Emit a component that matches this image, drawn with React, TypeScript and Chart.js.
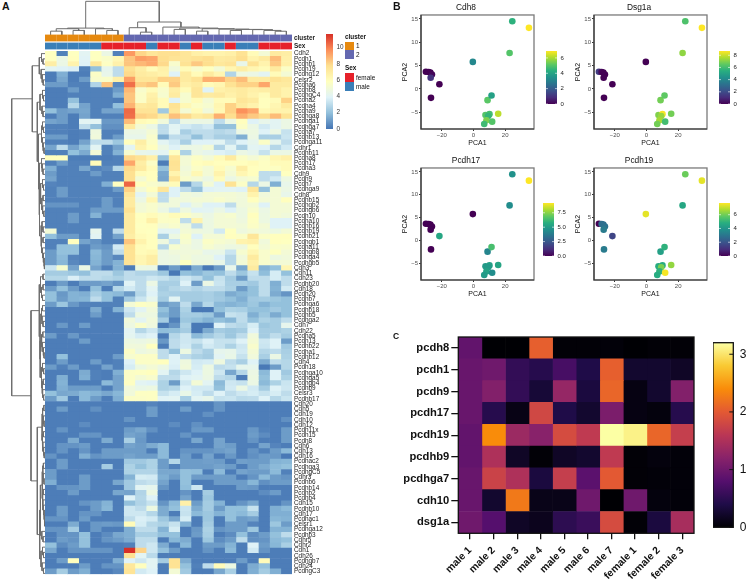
import React, { useEffect, useRef } from "react";
import { Chart, registerables } from "chart.js";

Chart.register(...registerables);

const FONT = '"Liberation Sans", Arial, sans-serif';

// ---------- Panel A data ----------
const geneLabels = ["Cdh2","Pcdh1","Pcdhb1","Pcdh19","Pcdhg12","Celsr2","Pcdha6","Pcdhb8","PcdhgC4","Pcdha2","Pcdha4","Pcdha9","Pcdhga8","Pcdhga1","Pcdhga7","Pcdha7","Pcdhb13","Pcdhga11","Cdhr1","Pcdhb11","Pcdha8","Pcdh17","Pcdha3","Cdh9","Pcdh9","Pcdh7","Pcdhga9","Cdh8","Pcdhb15","Pcdhgb2","Pcdhgb6","Pcdh10","Pcdha10","Pcdhb16","Pcdhb19","Pcdhb21","Pcdhgb1","Pcdha11","Pcdhgb8","Pcdhga4","Pcdhgb5","Cdh3","Cdh11","Cdh23","Pcdhb20","Cdh18","Pcdh20","Pcdhb7","Pcdhga6","Pcdhb18","Pcdhb5","Pcdhga2","Cdh7","Cdh22","Pcdha5","Pcdh13","Pcdhb22","Pcdha1","Pcdhb12","Cdh4","Pcdh18","Pcdhga10","Pcdhga5","Pcdhgb4","Pcdhb9","Celsr3","Pcdhb17","Cdh20","Cdh5","Cdh19","Cdh10","Cdh12","Pcdh11x","Pcdh15","Pcdh8","Cdh6","Cdh13","Cdh16","Pcdhac2","Pcdhga3","PcdhgC5","Cdhr3","Pcdhb6","Pcdhb14","Pcdhb2","Pcdhb4","Cdh15","Pcdhb10","Cdh17","Pcdhac1","Celsr1","Pcdhga12","Pcdhb3","Cdhr5","Cdhr2","Cdh1","Cdh26","Pcdhgb7","Cdh24","PcdhgC3"];

const expression: number[][] = [
[5.7,.3,5.7,4,5.7,4.5,.3,9.3,7.9,7.3,7.6,7.6,7.3,6.7,6.5,6.5,6.7,7.5,6,5,7,6.8],
[5.7,4.5,5.8,3.9,5.7,5.4,6.2,8.3,9.2,9,7.7,7.4,7.3,7.5,7.7,7,7.1,7.7,6.5,7,8.5,6.7],
[6.8,4.5,6.5,3.8,7.2,5.6,6.6,8.3,8.6,8.9,7.8,5.3,7.5,8.2,7.7,7.2,7.4,4.3,7.5,6.5,8.2,6.7],
[4,3.8,3.7,.3,2,4.2,3,7.6,6.8,6,6.6,4.8,6,5.3,5.7,5,6.3,6.8,6.3,6,7,5.5],
[.2,1.5,.2,.2,5.5,4.3,3,7.8,7,6.8,6.5,3.8,7,6,7,6.3,2.7,4.7,4.5,4,6,5],
[.2,1.3,.2,1,5.3,5.4,6.7,9.2,7.3,7.3,8,8,7,7.5,8.8,8.8,8,8.5,7,7,7.5,7.2],
[1,1,.3,.3,2.7,8.3,.5,10.2,8,8.3,6,8.2,6.7,7,6,6.3,7.5,8,8,9,7,7],
[.2,.2,1,.3,.3,.3,1,8.6,5.3,6,5.3,6.8,6,7.3,3.8,6.6,6.8,7,6.7,6.8,7,6.5],
[.2,.2,.3,.3,.3,.3,1.5,8.3,5.5,6.6,5.2,7,5.2,7.3,7,7.1,6.6,7,6.5,6,7,6.5],
[.2,.2,2,.3,.3,.3,.2,8.3,5.5,6.8,6,3.8,5.2,6,5,6,6,7.3,7,5.8,6,8],
[.2,.2,2.8,1.2,.3,.3,2,8.7,7,7.2,6,7.5,6.2,5.5,5.2,6.3,8,7,6.5,5.8,6.3,7],
[2,1,1.2,1.3,.3,1.2,1.2,10.3,7.4,7.4,2.3,7.3,5,6,4.8,6.2,8,9.5,9,6.2,6.5,6.5],
[.2,1,.2,1.2,.3,.3,.3,10.2,8,7.8,7,8.4,7.8,7,7.3,8.8,7.7,8.8,8.2,7.8,8.5,7.5],
[1.2,1,.2,4,4,.9,.9,8.5,6,5.8,4.8,3,4.5,4.5,4.5,3,4.5,5.8,3.8,4.3,4,4.5],
[.3,.3,.2,3,2,.7,.7,7,5,4.5,3,4,3.5,3.2,3.5,2,2,5.5,4.5,3.5,4,4.5],
[.3,.3,.2,.3,4.7,.3,.3,4.5,4.5,5,3,4,2.5,3,3,2.8,3,4.5,4.6,3.8,4.5,3.2],
[1,1,.2,.3,4.8,.3,1,4.3,4.3,5.3,1.5,3,3,2,3,2.5,2.5,1.5,4.5,2.5,2.5,3.3],
[.3,.3,.2,1.2,3,3,2.2,5.8,6.8,5.5,4,3.5,2.5,3.8,3.8,4,3,3.8,4.2,5.5,4.2,3],
[1.2,3,1.2,2,4,.3,1.2,4,6.5,5.8,4.5,3.8,4.5,4.5,5,2.7,4,2.5,4,3.8,2.8,3.5],
[.3,.3,2,1.4,5,.3,1.6,5.2,4.3,4.2,4,5.6,2.6,4.5,4.2,3.8,3.6,4.5,4.2,3.2,4.5,4.5],
[5.8,5.8,.2,.2,.2,.2,.3,7.8,7.5,6.7,2,7.3,5,5.5,5,6,7,5.5,5,5.5,6.3,6.6],
[.3,1,.3,.3,6,.3,.3,9,6.8,5.5,.2,7.5,5,5.8,6,5.8,5.8,5.8,6,5.6,6,6],
[1.5,.3,.3,1.3,.4,.6,2.8,7.8,7,6,2,7.4,4.8,5.5,5,6,5.2,6.8,5.8,5.6,5.6,6],
[1,.3,.3,.3,1,.3,.3,7.6,6,5.8,1.3,6.4,5,6.2,5,6.5,5,6.3,5.8,3,3,5.7],
[1.2,.3,.3,.3,.3,.3,.3,7.6,5,5.8,1.2,7.3,5.3,5,4.5,6,4.5,5,5.2,3,3.5,4.6],
[.4,.3,.3,.3,.3,1.5,5.7,10.4,5.8,5.3,5,6,1,2.8,5,3.8,7.5,5.5,2.8,4.5,1.5,4.3],
[.3,1,.3,.3,.3,.3,1,8,5,5.8,7.3,3.8,3,2,3.8,4,4,3.8,7.3,2,5,4.5],
[.3,1,.3,.3,.3,.3,.3,7.3,4,5,3,3.8,4.8,4.6,5,5,5,4.8,6.5,4.8,5,4.3],
[.3,.3,.3,.3,.3,1,.3,7,4.5,6.3,3,4.8,4.8,5,5,5.3,5,4.8,5.8,5,5,5.8],
[.8,.8,.8,.3,.3,1,.3,7,5,5.3,4.8,4.8,3.8,4.6,3.8,3.8,3,4.8,5,3.8,5,5],
[.3,.3,.3,.3,1,1,1,7.5,5,5.3,4.5,3.5,4.7,3.9,4,4.5,3.8,4.6,5.3,4.5,5,5],
[.3,.3,1,.3,1.6,.3,.3,7,5.7,6,5.5,6,5.5,5,4.5,5,5.2,4.6,5.8,4.6,5,4.8],
[.3,.3,1,.3,.3,.3,.3,7,5.8,6.7,5.5,5.5,3,6.5,4.6,5,5,4.7,5.6,4.6,3.8,3.8],
[.3,.3,.3,.3,.3,.3,.3,7,5.7,5.8,5,5.3,4.8,3,4.6,5,5,4.9,5.5,5,3.8,3.8],
[5,.3,.3,.3,4.2,.3,3,7,5.8,5.7,4,4,5,4.7,4.6,3.5,5.7,4.7,5,4.8,4.6,5],
[2,1,1,.3,4,.3,1.2,6.8,6,5.8,2.5,4.6,5.4,3.8,5,5,5.8,5.5,7.3,5.5,5.8,5.8],
[.3,.3,5.8,1.2,.8,.3,.3,8.3,6.5,5.8,4.7,3.3,5.2,4.5,5.5,5.2,5,6.5,6.7,4.8,5.8,5.7],
[.3,2,2,.3,1,.8,3.5,7.6,6,5.8,2.8,5.2,4.8,4.5,5.2,4.8,4.6,4.7,5.8,5,5.4,5.3],
[1,2,2,.3,1.8,1,3,7.5,6,6.2,4.5,4.8,4.8,4.8,4.3,4.4,3.3,5.2,6.3,5.3,5.7,5],
[1,1.8,.4,.3,1.7,1,.5,7.5,6.3,6.8,4.5,4.6,4.9,4.6,4.6,3.8,2.8,4.8,7,5.3,4.6,4.8],
[1,1.7,.5,.3,1.6,1,1.6,7.4,6.3,6.8,4.5,4.6,5.7,4.7,4.7,4.4,2.8,5,6.7,5.3,5,5],
[3.3,5.2,1.2,4.5,1.2,.3,1.6,.2,4.6,4.5,.1,1,.1,1.4,.1,1,4.3,1.3,7,1.6,2,6.3],
[2.4,2.4,2.2,2,3,3,2.2,3,2.7,2.7,2.2,.1,2,1.7,2.2,2,3,2.2,3.2,1.9,3.6,2],
[2.8,2.8,3.7,3,3,2.8,2.6,3,3,3.4,3.2,2.8,3.4,3,2,3.2,2.4,1,3,3,3.6,3],
[.2,1,.2,1,1,1.2,.8,3.9,3,4.5,2.5,2.5,3.8,1,4.5,3.3,2.5,2.5,2.3,3,1.5,3],
[1,2,1,.2,2,.2,2.8,3.5,3,4,2.4,2.8,3,2.7,3,3,2.6,1,2,3,1.6,3.5],
[2,.9,1.6,1.5,2.5,2,1.8,1,2.8,3.8,2.6,2.5,2.4,2.4,2.5,2.2,1.4,1.7,2,3,1.4,.8],
[2,1,1.6,1.7,3,2,.3,2.3,3.3,4.2,2.4,4,2.4,2.4,2.5,2.3,2,1.5,2.3,2.4,2.2,2],
[1,2.2,.9,.4,.3,.3,.3,5,5.6,5.3,1,1.3,3,1.3,2.8,1.8,1.6,1.8,2.2,1.6,2,2],
[.2,.2,.2,.2,1.4,.2,1.6,3.4,4,4.8,2,1,2.6,.1,.1,2,2.6,2.5,2,2,2.3,2],
[.2,.2,.2,.2,1,.2,.2,3,4.6,4.6,1.6,1,2.4,2.4,2.2,1,3.2,3,1.5,2.2,1.4,2],
[.2,.2,.2,.2,.2,.2,.2,4.8,4,4.8,2.4,.3,2.2,2,1.6,2,1.7,3,2,2.6,2.4,3],
[.2,.9,.2,1,.2,.2,.2,4.6,5.4,4.7,.1,.8,2.6,.1,.1,3.8,3,2.8,3.6,2.2,2.4,4.2],
[.2,.2,.2,.2,.2,.2,.2,4,2.8,3.4,1.9,2,2.4,.1,1.4,2.4,2.2,2.4,3.8,2.4,2.4,2.6],
[1,.2,.9,.2,.2,.2,.2,4.1,3.6,3.8,.1,2.8,3.4,1.8,2.3,2.8,2.2,3,4.8,2.4,3,2.4],
[.2,.2,.2,1,.2,.2,.2,4.6,4.5,4.7,.9,3,3.4,3.2,3.7,3.2,3.2,3.8,5,3.4,3.8,1],
[.2,.2,.2,.2,.2,.2,.2,4.8,4.8,5.7,.2,3,3.5,2.6,3.5,3.2,2.6,3.4,5.3,3.3,3.8,2.3],
[.2,.2,.2,.2,.2,.2,.2,5.5,4.6,4.8,3,2,4.6,3,2.5,4.2,4.3,3.5,5,2.8,3,2.5],
[.2,2,.2,.2,.2,.2,1,5.2,5.5,5.5,3,3.8,3,2.6,2.4,4,4.4,3.2,4.8,2.5,4.5,2.6],
[.2,1,.2,.2,1,.2,.3,3.8,5.5,5.5,5.8,3.8,4.7,3.5,3.6,4.7,3,2.5,3.8,1.4,3,2.8],
[1,.3,1,.2,.2,1.2,.3,3.6,4.6,5,4.5,3.7,4.8,3.6,4.6,3,3.2,4.2,4.2,.1,1,2.8],
[.2,.2,.2,1.4,.3,.2,1.5,5.5,5.6,5.8,4,2.8,3.4,3.8,4.6,3.4,1.3,2.8,4.5,1.8,3.8,2.3],
[.2,1.5,.2,1.5,.3,.2,1.2,5.5,5,5.3,3,3,3.8,4,4.5,3,2.8,.2,4.6,2,3.8,2.6],
[.2,1.6,.2,.2,.2,1.8,1.2,5.6,4,3.8,2.6,1,3.4,5,4,1.8,3.4,3.2,4.5,1.8,2.6,3.3],
[.2,1.5,1,1,1,.2,1.2,4.8,4.4,4.6,2.6,2.8,3.8,3.5,3.5,2,3.5,4.5,3.5,2.4,3.8,3.4],
[2,1.3,1.4,1.8,1.6,1.3,1.7,4.8,5.6,5.6,3.2,3.6,4.4,3.6,3,3.8,3,3.4,3.6,3.2,3.6,3],
[1,2.3,.2,1.8,1,.2,1.5,5.5,5.5,5.6,3.9,4,2.5,4,4.3,3.2,3.3,2.9,3,3.8,2.8,3.3],
[.2,.2,.2,.2,.2,.2,.2,.2,.2,.4,.2,.2,.2,.2,.2,.8,.2,.2,.2,.2,.2,.2],
[.2,1,.2,.2,.7,.2,.2,.2,.2,1,.2,.2,1,.2,.2,.8,.2,.2,.2,.2,.2,.2],
[.2,.2,.2,.2,.2,.2,.2,.2,.2,1,.2,.2,.2,.2,.7,.2,.2,.2,.2,.2,.2,.2],
[.2,.2,.2,.2,.2,.2,.2,.8,.2,.2,.2,.2,.2,.2,.2,.2,.2,.2,.2,.2,.2,.7],
[.2,.2,.2,.6,.2,.2,.2,.2,.2,.2,.2,.6,.2,.7,.2,.2,.2,.2,.2,.2,.2,.2],
[.2,.8,.2,.2,.2,.2,.2,1,1.3,.7,.2,.2,.2,.9,.9,.2,.2,.2,.9,.3,.2,1],
[.2,.2,.2,.8,.8,.2,.2,1.2,1,.2,.2,.2,.8,.2,.2,.2,.2,.2,1,.6,.2,1],
[.2,.2,1.4,.2,.2,1.4,.2,2.5,.9,.2,.2,.2,.2,1.3,.2,1.2,.2,.2,.8,.2,.2,1],
[.2,.8,.8,1,.2,.2,.2,1.2,1,1.4,1.8,.2,.2,.2,.2,1.2,1,.2,.2,1.2,.4,.2],
[.2,.8,.2,.8,.2,1,1,1,1,.2,1.8,.2,.8,.8,.8,1,1.2,.2,.8,.3,1,1.8],
[.8,.2,.2,1.5,.8,1,1,1.2,1,1,1.8,.2,1,.2,1.2,.2,.9,.2,.7,1,.9,.1],
[.2,1,.2,.2,.2,.2,.2,2.3,2.3,2.6,1,2.8,1,1,1.1,1,.2,1.1,1,1,1.6,1.7],
[.2,1,.2,.2,.2,2.4,.2,2.6,2,2.6,1,.3,1,1,1,1.2,1,.2,1,1.4,1.8,2],
[1,.2,.2,.2,.2,.2,.2,2.6,2.7,2.7,1.3,1.3,2,1.9,.2,1.8,.2,1.2,1,1,1.8,.3],
[1,.2,.2,1,.2,.2,.2,1.6,3.6,3.5,1.5,1,2,1,1,1,1,.2,.8,1.8,1,.8],
[1.5,.2,.2,1,.2,.2,1.3,2.3,3,3.2,1.2,.2,2,.2,.2,1,1,1,1.7,.7,1,1],
[.2,.8,.8,1,.2,.2,.2,2.3,4,4.2,.8,.2,1.9,3.4,.2,.2,.2,1,.9,.2,.2,.2],
[.2,.2,1,.2,.2,.2,1.3,1.2,2.7,4.5,.2,.2,.8,.2,2.4,.2,.2,.2,.2,.6,1,.2],
[.2,.2,.2,.2,.2,.2,.2,3.8,2.8,3.8,.2,.2,1.2,.2,2.2,.2,.2,.2,.2,.2,.2,.2],
[.2,.2,.2,.8,1,1.6,.2,2,2.7,3.2,.8,1.8,6.7,1,2.4,1.6,.2,.8,1.3,.2,.2,.8],
[.2,1,.2,.2,1,1.7,.2,3.4,3,4.6,1.4,2,3.3,1.4,2.4,1,2,2,3.2,.2,1.5,1.8],
[.2,1,.2,.8,.8,.2,.2,3.4,3.4,2.8,1.4,.2,3.2,1.8,2.2,1.6,2,1.8,2.4,.2,1.5,1.5],
[.8,.8,.2,1,.2,.2,.2,3,3.7,3.5,2.2,1.3,3.6,.2,2.2,.2,2,1,1.2,.2,1.7,1.6],
[.2,.2,1.4,.2,.9,1,.9,6,3.6,2.8,2.6,3.2,1.6,.2,2.4,.2,1,1,.4,.2,2.2,1],
[.8,.8,2.4,.2,.9,.2,.2,1.5,3,3,1.6,3.6,.2,.9,2.6,.8,1,1,2.2,.2,1.6,1.6],
[.2,.8,.8,2,.2,.6,1.3,1.5,2.5,2.5,2,2,.2,1,2.5,.2,.6,2,.6,1,2,3],
[.2,1,.8,2,.2,.8,1,1.4,3,3,.2,1.7,1.4,.2,2.2,.6,1,3,.7,.8,1.8,2],
[2,.6,1,2,.2,.2,.2,.3,3,3.4,1.4,.2,1.7,.2,1,1,1.6,.2,3.8,1,1.7,2.5],
[1.3,.2,.8,.8,.8,.8,.2,11.5,8,3.4,2,1,.2,.2,.8,.2,1.8,.2,3.5,.8,.2,.2],
[.2,.2,.2,.2,.2,.2,.2,7.6,4,2.9,.2,.2,.2,.2,.2,.2,.2,.2,.2,.2,.2,.2],
[.2,1,5.8,.2,.2,.2,1.5,3.8,3.4,4,2.4,7.5,1.4,.2,.2,.2,.2,1,.2,6,.2,.2],
[.2,.2,.2,1,.2,.8,.8,7.2,5.8,4,.2,7.5,2,.3,3,6,4.6,.2,1.4,2,.2,.2],
[1,2.4,1,1.5,.2,.2,.5,7.4,3.5,3.8,.2,5,2.3,.2,.2,1.3,2.5,.2,1.5,2.4,1.5,.2],
];

const clusterTrack = [1,1,1,1,1,1,1,2,2,2,2,2,2,2,2,2,2,2,2,2,2,2];
const sexTrack = ["m","m","m","m","m","f","f","f","f","m","f","f","m","f","m","m","f","m","m","f","f","f"];

// dendrogram merges: [height, childA, childB]; a number is a leaf index
type Tree = number | [number, Tree, Tree];
const colTree: Tree = [33.2,
  [6.8,[6.2,[3.8,0,1],[4.5,2,3]],[6.2,4,[4.5,5,6]]],
  [12.8,[7.2,7,[2.8,8,9]],[7.8,10,[6.8,[5.5,11,12],[6.2,[3.8,13,14],[5.8,15,[5.5,[4.5,16,17],[5.3,18,[4.5,19,[3.7,20,21]]]]]]]]]];
const rowTree: Tree = [33.3,
  [12.7,
    [5.7,[3.5,0,[2,1,2]],[3.8,3,[2.8,4,[1.8,5,6]]]],
    [7.7,
      [5,[2.5,7,[1.5,8,9]],[3,10,[2,11,12]]],
      [6.5,
        [3.5,[2.5,13,[1.5,14,15]],[2.5,16,[1.8,17,[1,18,19]]]],
        [5.8,[3.5,20,[2.8,21,[2,22,23]]],
          [5.5,[4.4,[2.5,24,[1.5,25,26]],[3.2,[2,27,28],[2.4,29,[1.2,30,31]]]],
            [4,[3,32,[2,33,34]],[3.5,[2,35,36],[2.5,37,[1.6,38,[1,39,[.6,40,41]]]]]]]]]]],
  [14,
    [5.7,[4.5,[2,42,43],[3.5,[2,44,45],[2.5,46,47]]],
      [5,[3.5,[2.5,48,49],[3,50,[2,51,52]]],
        [4.8,[3.4,[2.2,53,54],[2.8,55,[1.6,56,[1,57,58]]]],
          [3.5,[2.5,59,[1.4,60,61]],[3,[1.8,62,63],[2.4,64,[1.4,65,66]]]]]]],
    [7.7,
      [3,[2.4,[1.2,67,68],[1.8,69,[1,70,71]]],[2.8,[1.5,72,73],[2.2,74,[1.4,75,[.8,76,77]]]]],
      [5.3,
        [4.6,[2.9,[2.2,[1.6,78,79],[1.8,80,[1,81,82]]],[2.5,[1.8,83,84],[2.2,85,[1.5,86,[1,87,[.6,88,[.4,89,90]]]]]]],[3.2,91,[2,92,93]]],
        [4,[2.5,94,[1.5,95,96]],[3,97,[1.5,98,99]]]]]]];

// ---------- Panel B data ----------
const pca1 = [24.5,35,22.8,-.4,-30,-28.3,-27.2,-26.2,-27,-21.5,-26.8,8.9,11.4,15.6,7.6,10.1,9.3,8.2,11.8,6.8];
const pca2 = [14.5,13.1,7.7,5.8,3.7,3.65,3.5,3.1,2.4,1,-1.9,-2.4,-1.4,-5.3,-5.6,-5.4,-5.8,-6.7,-7,-7.5];
const cdh8Pca = [4.4,6.9,5,3.2,0,0,0,.1,1,0,0,5.1,3.9,6.2,5,4.8,4.5,5.5,5,4.7];
const dsg1aPca = [6.2,8.7,7.2,0,1.5,.2,0,0,0,0,0,6.8,6.5,6.8,7,8.6,7.3,7.5,6,6.8];
const pcdh17Pca = [4.7,9.3,4.5,0,0,0,0,0,0,5.5,0,4.2,6.5,5.4,5,5.2,5,5.3,4.5,5];
const pcdh19Pca = [6,7.5,4.6,7.5,0,2.8,2.8,2.9,3.2,1.6,3.2,4.4,5,6.5,4.8,4.8,6.2,5,7.7,4.8];

// ---------- Panel C data ----------
const samples = ["male 1","male 2","male 3","male 4","male 5","male 6","male 7","female 1","female 2","female 3"];
const cGenes = ["pcdh8","pcdh1","pcdh9","pcdh17","pcdh19","pcdhb9","pcdhga7","cdh10","dsg1a"];
const cValues = [
  [.9,0,0,2.05,.02,.02,.03,0,.02,.02],
  [.95,1,.55,.45,.7,.4,2.05,.25,.25,.2],
  [.95,1.15,.55,.3,1.3,.35,2.1,.08,.25,1.15],
  [.95,.45,.1,1.8,.4,.25,1.1,.08,.05,.45],
  [.9,2.4,1.35,1.2,1.85,1.65,3.2,3.1,2.1,1.7],
  [.9,1.5,.2,.02,.2,.25,1.65,.02,.05,.03],
  [.95,1.75,1.5,.35,1.7,.85,2,.02,.03,.03],
  [.95,.25,2.25,.12,.12,1,0,1,.05,.03],
  [1,.8,.2,.15,.5,.6,1.85,.02,.35,1.45],
];

// ---------- colours ----------
const rdylbu = ["#4575B4","#91BFDB","#E0F3F8","#FFFFBF","#FEE090","#FC8D59","#D73027"];
const viridis = ["#440154","#472d7b","#3b528b","#2c728e","#21918c","#28ae80","#5ec962","#addc30","#fde725"];
const inferno = ["#000004","#1f0c48","#550f6d","#88226a","#ba3655","#e35933","#f98c0a","#f9c932","#fcffa4"];
const ORANGE = "#E6890F", PURPLE = "#6468B0", RED = "#E6212A", BLUE = "#3A7FB8";

function hexRgb(h: string) { return [1, 3, 5].map((i) => parseInt(h.slice(i, i + 2), 16)); }
function ramp(stops: string[], t: number) {
  const p = Math.min(Math.max(t, 0), 1) * (stops.length - 1);
  const i = Math.min(Math.floor(p), stops.length - 2);
  const a = hexRgb(stops[i]), b = hexRgb(stops[i + 1]), f = p - i;
  return `rgb(${a.map((v, k) => Math.round(v + (b[k] - v) * f)).join(",")})`;
}

// ---------- layout helper: a plot rectangle plus margins around it ----------
type Rect = { l: number; t: number; r: number; b: number };
type Margin = { left: number; top: number; right: number; bottom: number };
type Spec = { plot: Rect; m: Margin; config: any };

function Plot({ plot, m, config }: Spec) {
  const ref = useRef<HTMLCanvasElement>(null);
  const w = Math.ceil(plot.r - plot.l + m.left + m.right);
  const h = Math.ceil(plot.b - plot.t + m.top + m.bottom);
  useEffect(() => {
    const c = new Chart(ref.current as HTMLCanvasElement, config);
    return () => c.destroy();
  }, []);
  return <canvas ref={ref} width={w} height={h}
    style={{ position: "absolute", left: plot.l - m.left, top: plot.t - m.top, width: w, height: h }} />;
}

const fixedWidth = (w: number) => (s: any) => { s.width = w; };
const fixedHeight = (h: number) => (s: any) => { s.height = h; };
const tickList = (vals: number[]) => (s: any) => { s.ticks = vals.map((value) => ({ value })); };
const base = { responsive: false, animation: false as const, maintainAspectRatio: false };
const noPlugins = { legend: { display: false }, tooltip: { enabled: false }, title: { display: false } };

const boxPlugin = (color: string, width: number, dark?: string) => ({
  id: "box",
  afterDatasetsDraw(chart: any) {
    const { ctx, chartArea: a } = chart;
    ctx.save();
    ctx.strokeStyle = color; ctx.lineWidth = width;
    ctx.strokeRect(a.left, a.top, a.right - a.left, a.bottom - a.top);
    if (dark) {
      ctx.strokeStyle = dark; ctx.lineWidth = 1.2;
      ctx.beginPath(); ctx.moveTo(a.left, a.top); ctx.lineTo(a.left, a.bottom); ctx.lineTo(a.right, a.bottom); ctx.stroke();
    }
    ctx.restore();
  },
});
const innerTicks = (color: string, len: number, both: boolean, lw: number) => ({
  id: "innerTicks",
  afterDatasetsDraw(chart: any) {
    const { ctx, chartArea: a, scales } = chart;
    ctx.save(); ctx.strokeStyle = color; ctx.lineWidth = lw;
    scales.y.ticks.forEach((t: any) => {
      const y = scales.y.getPixelForValue(t.value);
      ctx.beginPath(); ctx.moveTo(a.right - len, y); ctx.lineTo(a.right, y);
      if (both) { ctx.moveTo(a.left, y); ctx.lineTo(a.left + len, y); }
      ctx.stroke();
    });
    ctx.restore();
  },
});

// ---------- matrix of cells as stacked horizontal bars ----------
function cellDatasets(rows: any[][], colorOf: (v: any) => string, bar = 1) {
  return rows[0].map((_, j) => ({
    data: rows.map(() => 1),
    backgroundColor: rows.map((r) => colorOf(r[j])),
    borderWidth: 0, barPercentage: bar, categoryPercentage: 1, stack: "s",
  }));
}

// ---------- dendrogram as line segments ----------
function dendroSets(tree: Tree, horizontalLeaves: boolean) {
  const sets: any[] = [];
  const walk = (t: Tree): [number, number] => {
    if (typeof t === "number") return [t + 0.5, 0];
    const [h, a, b] = t;
    const [pa, ha] = walk(a), [pb, hb] = walk(b);
    const pts = [[pa, ha], [pa, h], [pb, h], [pb, hb]];
    sets.push({
      type: "scatter", showLine: true, pointRadius: 0, borderColor: "#6e6e6e", borderWidth: 1, clip: false,
      data: pts.map(([p, v]) => (horizontalLeaves ? { x: p, y: v } : { x: v, y: p })),
    });
    return [(pa + pb) / 2, h];
  };
  walk(tree);
  return sets;
}

// ---------- panel specs ----------
const heatA: Spec = {
  plot: { l: 45, t: 50.5, r: 291.5, b: 575 },
  m: { left: 0, top: 10, right: 50, bottom: 4 },
  config: {
    type: "bar",
    data: { labels: geneLabels, datasets: cellDatasets(expression, (v) => ramp(rdylbu, (v ?? 0) / 11.5)) },
    options: {
      ...base, indexAxis: "y", plugins: noPlugins,
      layout: { padding: { left: 0, top: 10, right: 0, bottom: 4 } },
      scales: {
        x: { display: false, stacked: true, min: 0, max: 22 },
        y: {
          position: "right", stacked: true, afterFit: fixedWidth(50), grid: { display: false, drawTicks: false }, border: { display: false },
          ticks: { autoSkip: false, font: { family: FONT, size: 6.4 }, color: "#222", padding: 2 },
        },
      },
    },
  },
};

const trackA: Spec = {
  plot: { l: 45, t: 34.3, r: 291.5, b: 50 },
  m: { left: 0, top: 8, right: 50, bottom: 6 },
  config: {
    type: "bar",
    data: {
      labels: ["cluster", "Sex"],
      datasets: cellDatasets([clusterTrack, sexTrack], (v) =>
        v === 1 ? ORANGE : v === 2 ? PURPLE : v === "f" ? RED : BLUE, 0.85),
    },
    options: {
      ...base, indexAxis: "y", plugins: noPlugins,
      layout: { padding: { left: 0, top: 8, right: 0, bottom: 6 } },
      scales: {
        x: { display: false, stacked: true, min: 0, max: 22 },
        y: {
          position: "right", stacked: true, afterFit: fixedWidth(50), grid: { display: false, drawTicks: false }, border: { display: false },
          ticks: { autoSkip: false, font: { family: FONT, size: 6.4, weight: "bold" }, color: "#222", padding: 2 },
        },
      },
    },
  },
};

const topDendro: Spec = {
  plot: { l: 45, t: 0, r: 291.5, b: 34.5 },
  m: { left: 0, top: 0, right: 0, bottom: 0 },
  config: {
    type: "scatter",
    data: { datasets: dendroSets(colTree, true) },
    options: {
      ...base, plugins: noPlugins,
      scales: { x: { display: false, min: 0, max: 22 }, y: { display: false, min: 0, max: 34.5 } },
    },
  },
};

const leftDendro: Spec = {
  plot: { l: 5, t: 50.5, r: 45, b: 575 },
  m: { left: 0, top: 0, right: 0, bottom: 0 },
  config: {
    type: "scatter",
    data: { datasets: dendroSets(rowTree, false) },
    options: {
      ...base, plugins: noPlugins,
      scales: { x: { display: false, min: 0, max: 40, reverse: true }, y: { display: false, min: 0, max: 100, reverse: true } },
    },
  },
};

function colorBar(plot: Rect, stops: string[], max: number, ticks: number[], o: any): Spec {
  const wr = o.axisW;
  const m = { left: 0, top: 8, right: wr, bottom: 8 };
  return {
    plot, m,
    config: {
      type: "bar",
      data: {
        labels: [""],
        datasets: [{
          data: [[0, max]], borderWidth: 0, barPercentage: 1, categoryPercentage: 1,
          backgroundColor: (ctx: any) => {
            const a = ctx.chart.chartArea;
            if (!a) return stops[0];
            const g = ctx.chart.ctx.createLinearGradient(0, a.bottom, 0, a.top);
            stops.forEach((s, i) => g.addColorStop(i / (stops.length - 1), s));
            return g;
          },
        }],
      },
      options: {
        ...base, plugins: noPlugins,
        layout: { padding: { left: 0, top: 8, right: 0, bottom: 8 } },
        scales: {
          x: { display: false },
          y: {
            position: "right", min: 0, max, afterBuildTicks: tickList(ticks), afterFit: fixedWidth(wr),
            grid: { display: false, drawTicks: false }, border: { display: false },
            ticks: {
              font: { family: FONT, size: o.size }, color: o.color, padding: o.pad, autoSkip: false,
              callback: (v: number) => (o.digits ? v.toFixed(o.digits) : String(v)),
            },
          },
        },
      },
      plugins: o.plugins,
    },
  };
}

function pcaPanel(title: string, values: number[], plot: Rect, max: number): Spec {
  const m = { left: 23, top: 14, right: 4, bottom: 21 };
  const tickFont = { family: FONT, size: 6 };
  const titleFont = { family: FONT, size: 7 };
  const axis = { grid: { drawOnChartArea: false, tickLength: 2, color: "#333" }, border: { display: false } };
  return {
    plot, m,
    config: {
      type: "scatter",
      data: {
        datasets: [{
          data: pca1.map((x, i) => ({ x, y: pca2[i] })),
          pointRadius: 3.3, pointBorderWidth: 0,
          pointBackgroundColor: values.map((v) => ramp(viridis, v / max)),
        }],
      },
      options: {
        ...base,
        layout: { padding: { left: 0, top: 0.7, right: 4, bottom: 0 } },
        plugins: {
          legend: { display: false }, tooltip: { enabled: false },
          title: {
            display: true, text: title, color: "#111", padding: { top: 1, bottom: 2.2 },
            font: { family: FONT, size: 8.4, weight: "normal", lineHeight: 1.2 },
          },
        },
        scales: {
          x: {
            ...axis, min: -33.1, max: 38.2, afterBuildTicks: tickList([-20, 0, 20]), afterFit: fixedHeight(21),
            ticks: { font: tickFont, color: "#4d4d4d", padding: 1, maxRotation: 0, callback: (v: number) => String(v).replace("-", "\u2212") },
            title: { display: true, text: "PCA1", color: "#111", font: titleFont, padding: { top: 0, bottom: 2.4 } },
          },
          y: {
            ...axis, min: -8.58, max: 15.86, afterBuildTicks: tickList([-5, 0, 5, 10, 15]), afterFit: fixedWidth(23),
            ticks: { font: tickFont, color: "#4d4d4d", padding: 1, callback: (v: number) => String(v).replace("-", "\u2212") },
            title: { display: true, text: "PCA2", color: "#111", font: titleFont, padding: { top: 2.5, bottom: 0 } },
          },
        },
      },
      plugins: [boxPlugin("#7a7a7a", 1.3, "#333")],
    },
  };
}

const heatC: Spec = {
  plot: { l: 458.3, t: 336.7, r: 693.3, b: 532.3 },
  m: { left: 73.3, top: 10, right: 8, bottom: 46.7 },
  config: {
    type: "bar",
    data: { labels: cGenes, datasets: cellDatasets(cValues, (v) => ramp(inferno, v / 3.2)) },
    options: {
      ...base, indexAxis: "y", plugins: noPlugins,
      layout: { padding: { left: 0, top: 10, right: 8, bottom: 0 } },
      scales: {
        x: {
          stacked: true, min: 0, max: 10, afterFit: fixedHeight(46.7),
          afterBuildTicks: tickList(samples.map((_, i) => i + 0.5)),
          grid: { drawOnChartArea: false, tickLength: 6, color: "#111", lineWidth: 1.3 }, border: { display: false },
          ticks: {
            autoSkip: false, minRotation: 45, maxRotation: 45, padding: 5, color: "#111",
            font: { family: FONT, size: 10.3, weight: "bold" },
            callback: (v: number) => samples[Math.floor(v)],
          },
        },
        y: {
          stacked: true, afterFit: fixedWidth(73.3),
          grid: { offset: false, drawOnChartArea: false, tickLength: 7, color: "#111", lineWidth: 1.3 }, border: { display: false },
          ticks: { autoSkip: false, padding: 2, color: "#111", font: { family: FONT, size: 11.2, weight: "bold" } },
        },
      },
    },
    plugins: [boxPlugin("#111", 1.3)],
  },
};

const specs: Spec[] = [
  topDendro, leftDendro, heatA, trackA,
  colorBar({ l: 326, t: 34.3, r: 332.7, b: 129 }, rdylbu, 11.65, [0, 2, 4, 6, 8, 10],
    { axisW: 16, size: 6.4, color: "#333", pad: 3.5 }),
  pcaPanel("Cdh8", cdh8Pca, { l: 420.7, t: 15, r: 533.3, b: 128.3 }, 6.9),
  pcaPanel("Dsg1a", dsg1aPca, { l: 594.3, t: 15, r: 707, b: 128.3 }, 8.7),
  pcaPanel("Pcdh17", pcdh17Pca, { l: 420.7, t: 168.3, r: 533.3, b: 280.3 }, 9.3),
  pcaPanel("Pcdh19", pcdh19Pca, { l: 594.3, t: 168.3, r: 707, b: 280.3 }, 7.8),
  colorBar({ l: 545.7, t: 51, r: 556.3, b: 104 }, viridis, 6.9, [0, 2, 4, 6],
    { axisW: 14, size: 6, color: "#222", pad: 3.5, plugins: [innerTicks("#fff", 2, true, 0.6)] }),
  colorBar({ l: 719.3, t: 51, r: 730, b: 104 }, viridis, 8.7, [0, 2, 4, 6, 8],
    { axisW: 14, size: 6, color: "#222", pad: 3.5, plugins: [innerTicks("#fff", 2, true, 0.6)] }),
  colorBar({ l: 543.3, t: 203.3, r: 554, b: 255.5 }, viridis, 9.2, [0, 2.5, 5, 7.5],
    { axisW: 18, size: 6, color: "#222", pad: 3.5, digits: 1, plugins: [innerTicks("#fff", 2, true, 0.6)] }),
  colorBar({ l: 719.3, t: 203.3, r: 730, b: 255.5 }, viridis, 7.7, [0, 2, 4, 6],
    { axisW: 14, size: 6, color: "#222", pad: 3.5, plugins: [innerTicks("#fff", 2, true, 0.6)] }),
  heatC,
  colorBar({ l: 712.7, t: 336.7, r: 732.3, b: 532.3 }, inferno, 3.2, [0, 1, 2, 3],
    { axisW: 14.7, size: 12, color: "#111", pad: 6.5, plugins: [boxPlugin("#111", 1.3), innerTicks("#111", 4, false, 1)] }),
];

// ---------- legend + panel letters ----------
const txt = (text: string, x: number, y: number, size: number, bold = false) => (
  <div key={text + x + y} style={{
    position: "absolute", left: x, top: y - size * 0.6, fontFamily: FONT, fontSize: size,
    fontWeight: bold ? 700 : 400, lineHeight: 1.2 + "em", color: "#111", whiteSpace: "nowrap",
  }}>{text}</div>
);
const swatch = (x: number, y: number, h: number, c: string) => (
  <div key={c + y} style={{ position: "absolute", left: x, top: y, width: 9, height: h, background: c }} />
);

export default function App() {
  return (
    <div style={{ position: "absolute", left: 0, top: 0, width: 747, height: 579, overflow: "hidden", background: "#fff" }}>
      {specs.map((s, i) => <Plot key={i} {...s} />)}
      {txt("A", 2, 6.5, 10.5, true)}
      {txt("B", 393, 6.5, 10.5, true)}
      {txt("C", 393, 336, 8.5, true)}
      {txt("cluster", 345, 37, 6.4, true)}
      {swatch(345, 41.7, 8.6, ORANGE)}
      {swatch(345, 50.3, 9, PURPLE)}
      {txt("1", 356, 46, 6.4)}
      {txt("2", 356, 55, 6.4)}
      {txt("Sex", 345, 68, 6.4, true)}
      {swatch(345, 72.7, 9, RED)}
      {swatch(345, 81.7, 9, BLUE)}
      {txt("female", 356, 77.5, 6.4)}
      {txt("male", 356, 87, 6.4)}
    </div>
  );
}
